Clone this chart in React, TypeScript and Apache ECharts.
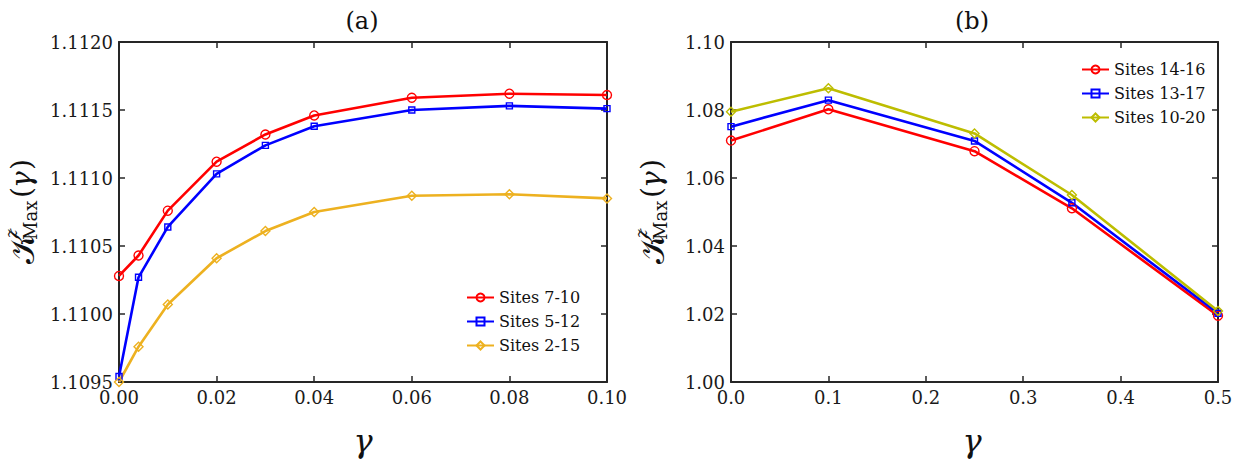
import React, { useEffect, useRef } from "react";
import * as echarts from "echarts";

// Panel (a): gamma values and maximum value per site window
const gammaA = [0, 0.004, 0.01, 0.02, 0.03, 0.04, 0.06, 0.08, 0.1];
const sites7to10 = [1.11028, 1.11043, 1.11076, 1.11112, 1.11132, 1.11146, 1.11159, 1.11162, 1.11161];
const sites5to12 = [1.10954, 1.11027, 1.11064, 1.11103, 1.11124, 1.11138, 1.1115, 1.11153, 1.11151];
const sites2to15 = [1.1095, 1.10976, 1.11007, 1.11041, 1.11061, 1.11075, 1.11087, 1.11088, 1.11085];

// Panel (b)
const gammaB = [0, 0.1, 0.25, 0.35, 0.5];
const sites14to16 = [1.071, 1.0802, 1.0679, 1.0511, 1.0195];
const sites13to17 = [1.0751, 1.0829, 1.0709, 1.0527, 1.0202];
const sites10to20 = [1.0795, 1.0864, 1.0731, 1.055, 1.0209];

const namesA = ["Sites 7-10", "Sites 5-12", "Sites 2-15"];
const namesB = ["Sites 14-16", "Sites 13-17", "Sites 10-20"];
const titles = ["(a)", "(b)"];

const FONT = "DejaVu Serif";
const AXIS = "#262626";
const RED = "#ff0000";
const BLUE = "#0000ff";
const ORANGE = "#EDB120";
const OLIVE = "#BDBD00";

const W = 1241;
const H = 473;

function pairs(xs: number[], ys: number[]) {
  return xs.map((x, i) => [x, ys[i]]);
}

function lineSeries(name: string, idx: number, xs: number[], ys: number[], color: string, symbol: string, size: number) {
  return {
    name,
    type: "line",
    xAxisIndex: idx * 2,
    yAxisIndex: idx * 2,
    data: pairs(xs, ys),
    symbol,
    symbolSize: size,
    clip: false,
    showSymbol: true,
    lineStyle: { color, width: 2.6 },
    itemStyle: { color: "rgba(255,255,255,0)", borderColor: color, borderWidth: 1.4 },
    emphasis: { disabled: true },
  };
}

function axisPair(grid: number, min: number, max: number, interval: number, digits: number, isX: boolean) {
  const base = {
    type: "value",
    gridIndex: grid,
    min,
    max,
    interval,
    splitLine: { show: false },
    axisLine: { show: true, onZero: false, lineStyle: { color: AXIS, width: 2 } },
    axisTick: { show: true, inside: true, length: 6, lineStyle: { color: AXIS, width: 1.5 } },
  };
  return [
    {
      ...base,
      position: isX ? "bottom" : "left",
      axisLabel: {
        show: true,
        fontFamily: FONT,
        fontSize: 18,
        color: "#1a1a1a",
        margin: isX ? 6 : 6,
        formatter: (v: number) => v.toFixed(digits),
      },
    },
    {
      ...base,
      position: isX ? "top" : "right",
      axisLabel: { show: false },
    },
  ];
}

function part(text: string, x: number, y: number, size: number, italic: boolean) {
  return {
    type: "text",
    x,
    y,
    style: { text, fontFamily: FONT, fontSize: size, fontStyle: italic ? "italic" : "normal", fill: "#111", verticalAlign: "middle", align: "left" },
  };
}

function yLabel(x: number, y: number) {
  // Rotated y-axis label: script K with superscript z and subscript Max, then (gamma)
  return {
    type: "group",
    x,
    y,
    rotation: Math.PI / 2,
    children: [
      part("𝒦", 0, 1, 34, false),
      part("z", 26, -10, 16, true),
      part("Max", 24, 9, 18, false),
      part("(", 66, 0, 28, false),
      part("γ", 76, 0, 28, true),
      part(")", 94, 0, 28, false),
    ],
  };
}

function textAt(text: string, x: number, y: number, size: number, italic: boolean) {
  return {
    type: "text",
    x,
    y,
    style: { text, fontFamily: FONT, fontSize: size, fontStyle: italic ? "italic" : "normal", fill: "#111", align: "center", verticalAlign: "middle" },
  };
}

function legendAt(names: string[], left: number, top: number) {
  return {
    data: names,
    orient: "vertical",
    left,
    top,
    itemWidth: 27,
    itemHeight: 10,
    itemGap: 5,
    padding: 0,
    textStyle: { fontFamily: FONT, fontSize: 16, color: "#111", lineHeight: 19 },
    selectedMode: false,
  };
}

export default function App() {
  const ref = useRef<HTMLDivElement>(null);

  useEffect(() => {
    if (!ref.current) return;
    const chart = echarts.init(ref.current, null, { renderer: "svg" });

    const [xa0, xa1] = axisPair(0, 0, 0.1, 0.02, 2, true);
    const [ya0, ya1] = axisPair(0, 1.1095, 1.112, 0.0005, 4, false);
    const [xb0, xb1] = axisPair(1, 0, 0.5, 0.1, 1, true);
    const [yb0, yb1] = axisPair(1, 1.0, 1.1, 0.02, 2, false);

    chart.setOption({
      animation: false,
      backgroundColor: "#ffffff",
      grid: [
        { left: 119, width: 488, top: 42, height: 340, containLabel: false },
        { left: 731, width: 487, top: 42, height: 340, containLabel: false },
      ],
      xAxis: [xa0, xa1, xb0, xb1],
      yAxis: [ya0, ya1, yb0, yb1],
      legend: [legendAt(namesA, 466, 288), legendAt(namesB, 1081, 60)],
      series: [
        lineSeries(namesA[0], 0, gammaA, sites7to10, RED, "circle", 9),
        lineSeries(namesA[1], 0, gammaA, sites5to12, BLUE, "rect", 6),
        lineSeries(namesA[2], 0, gammaA, sites2to15, ORANGE, "diamond", 9),
        lineSeries(namesB[0], 1, gammaB, sites14to16, RED, "circle", 9),
        lineSeries(namesB[1], 1, gammaB, sites13to17, BLUE, "rect", 6),
        lineSeries(namesB[2], 1, gammaB, sites10to20, OLIVE, "diamond", 9),
      ],
      graphic: [
        textAt(titles[0], 362, 21, 24, false),
        textAt(titles[1], 972, 21, 24, false),
        textAt("γ", 363, 441, 32, true),
        textAt("γ", 972, 441, 32, true),
        yLabel(21, 264),
        yLabel(651, 264),
      ],
    });

    return () => chart.dispose();
  }, []);

  return <div ref={ref} style={{ position: "fixed", left: 0, top: 0, width: W, height: H }} />;
}
